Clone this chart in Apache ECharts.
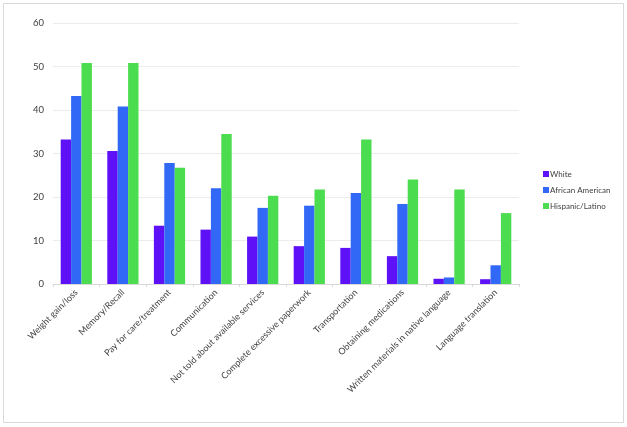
<!DOCTYPE html>
<html><head><meta charset="utf-8">
<script src="https://cdn.jsdelivr.net/npm/echarts@6/dist/echarts.min.js"></script>
<style>html,body{margin:0;padding:0;background:#fff}#c{width:627px;height:427px}</style>
</head><body><div id="c"></div>
<script>
const categories = ["Weight gain/loss","Memory/Recall","Pay for care/treatment","Communication","Not told about available services","Complete excessive paperwork","Transportation","Obtaining medications","Written materials in native language","Language translation"];
const seriesNames = ["White","African American","Hispanic/Latino"];
const white = [33.2,30.6,13.4,12.5,10.9,8.7,8.3,6.4,1.2,1.1];
const africanAmerican = [43.2,40.8,27.8,22.0,17.5,18.0,20.9,18.4,1.5,4.3];
const hispanic = [50.8,50.8,26.7,34.5,20.3,21.7,33.2,24.0,21.7,16.3];
const yTicks = {min:0,max:60,interval:10};
const colors = ["#5E10F7","#3168F5","#4CDC4F"];
const font = "Lato, 'Open Sans', sans-serif";
const chart = echarts.init(document.getElementById('c'), null, {renderer:'canvas'});
const data = [white, africanAmerican, hispanic];
chart.setOption({
  animation:false,
  graphic:[{type:'rect',shape:{x:3.5,y:3.5,width:620,height:419},style:{fill:'none',stroke:'#d9d9d9',lineWidth:1}}],
  legend:{orient:'vertical',left:538,top:165,itemWidth:6,itemHeight:6,itemGap:8,icon:'rect',
    textStyle:{fontFamily:font,fontSize:8,color:'#404040',padding:[0,0,0,-4]},data:seriesNames},
  grid:{left:53,right:108,top:23,bottom:143,containLabel:false},
  xAxis:{type:'category',data:categories,
    axisLine:{lineStyle:{color:'#d9d9d9'}},
    axisTick:{show:true,length:3,lineStyle:{color:'#d9d9d9'}},
    axisLabel:{rotate:45,interval:0,fontFamily:font,fontSize:9,color:'#404040',margin:7}},
  yAxis:{type:'value',min:yTicks.min,max:yTicks.max,interval:yTicks.interval,
    axisLine:{show:false},axisTick:{show:false},
    splitLine:{lineStyle:{color:'#ececec'}},
    axisLabel:{fontFamily:font,fontSize:9.5,color:'#404040',margin:9}},
  series:seriesNames.map((n,i)=>({name:n,type:'bar',data:data[i],barGap:'0%',barCategoryGap:'33%',
    itemStyle:{color:colors[i]}}))
});
</script></body></html>
